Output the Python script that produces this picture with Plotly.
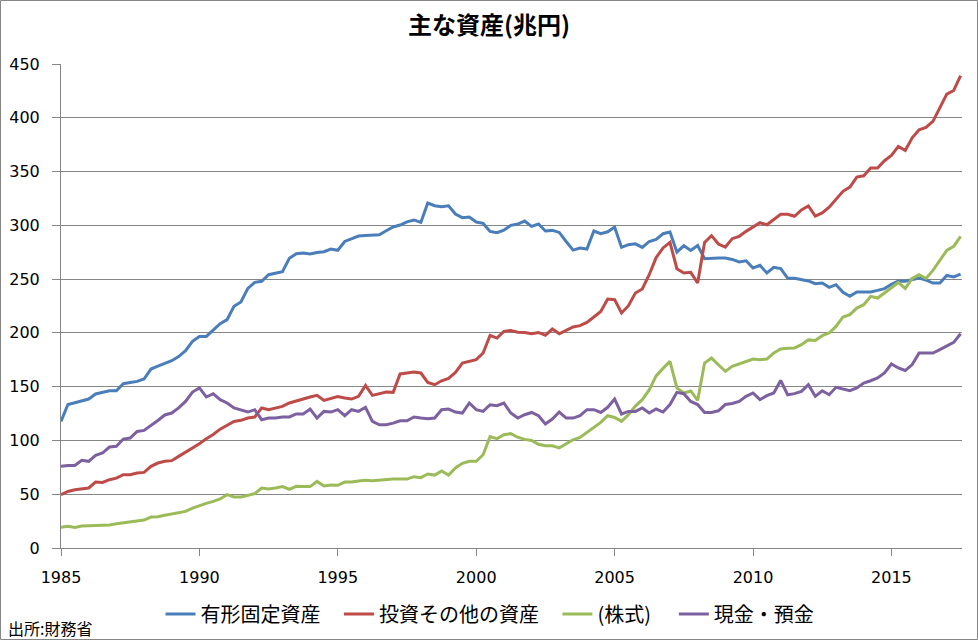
import plotly.graph_objects as go

START_YEAR = 1985  # first quarter: 1985 Q1, quarterly data

tangible_fixed = [
    117.7, 133.4, 135, 136.5, 138.5, 143.2, 144.5, 146.2, 146.2, 152.8,
    153.8, 154.9, 157.1, 166.4, 169, 171.5, 174.1, 178, 183.4, 192.1,
    196.7, 196.7, 202.5, 208.5, 212.3, 224.7, 228.7, 241.4, 247, 248,
    254.1, 255.5, 256.9, 269.3, 273.6, 274.2, 273.3, 274.8, 275.5, 278,
    276.8, 285, 287.6, 290, 290.5, 291, 291.3, 295, 298.5, 300.3,
    303.2, 305, 302.7, 320.7, 318.2, 317.3, 318.2, 310.5, 307.1, 307.7,
    303.1, 301.8, 294.4, 293.1, 295.5, 300, 301.2, 304, 299, 301.2,
    294.7, 295.3, 293.4, 285, 277, 278.9, 278, 294.7, 292.2, 294,
    298.4, 279.5, 282, 282.8, 279.5, 285, 287, 292.2, 293.8, 275.2,
    281, 276.7, 281.3, 269, 269.6, 269.6, 269.6, 268.3, 265.9, 267,
    260.3, 262.8, 255.7, 261, 259.8, 251, 250.7, 249.2, 248.3, 245.7,
    246.3, 242.3, 244.8, 237.7, 234, 238, 238, 238, 239.5, 241.2,
    245.2, 248.3, 248, 249.5, 251, 249, 246.3, 246.3, 253.4, 252,
    254.7,
]

investments_other = [
    49.6, 52.6, 54.2, 55.1, 55.8, 61.3, 61, 63.5, 65, 68.1,
    68.1, 69.7, 70.3, 75.9, 79, 80.6, 81.2, 85.2, 88.9, 92.9,
    97,
    101.5, 105.5, 110.5, 114.5, 117.7, 118.7, 120.9, 121.8, 130.2, 128.6,
    130.2, 131.7, 134.8, 136.4, 138.5, 140.4, 141.9, 137.2, 139.4, 140.9,
    139.4, 138.5, 141,
    151.2, 141.9, 143.1, 145, 144.7, 161.8, 162.7, 163.6, 162.7, 154,
    151.8, 155.5, 157.7, 163.3, 172, 173.6, 175.1, 181.3, 197.7, 195.2,
    201.4, 202.3,
    200.7, 200.4, 199.2, 200.4, 197.7, 203.6, 199.2, 202.3, 205.5, 206.7,
    209.8, 214.8, 219.9, 231.5, 230.9, 218.5, 225.3, 237.1, 240.8, 254.1,
    270,
    279, 284.1, 259.7, 255.7, 256.3, 246.4, 284.1, 290.4, 282.6, 279.8,
    287.6, 289.8, 294.4, 298.4, 302.4, 300.5, 305.5, 310.2, 310.2, 308.4,
    314.3, 318,
    308.6, 311.5, 316.9, 324.5, 331.6, 335.6, 344.9, 346.1, 353.3, 353.3,
    360.1, 365, 373.4, 369.7, 381.3, 388.9, 391, 396.6, 409, 422,
    425.4, 439.1,
]

stocks = [
    19.2, 20.1, 19, 20.5, 20.8, 20.8, 20.8, 21.5, 22.5, 23.5,
    24.3, 25, 26, 28.8, 29.1, 30.5, 31.5, 32.5, 34, 37,
    39.5,
    41.5, 43.4, 45.6, 49.6, 47.4, 47.4, 49.3, 50.5, 55.8, 54.9,
    55.8, 57.1, 54.6, 57.4, 57.1, 57.1, 61.9, 57.7, 58.6, 58.3,
    61.3, 61.3, 62.3,
    63, 62.5, 63, 64, 64.1, 64.1, 64.1, 66.3, 65.4, 68.8,
    67.8, 71.6, 67.8, 74.4, 78.7, 80.6, 80.6, 86.7, 103.5, 101.7,
    105.3, 106.3,
    103, 101, 100, 96.5, 95.1, 95.1, 93, 97, 100.6, 102.8,
    107.5, 112.5, 116.8, 123, 121.4, 117.7, 124, 132, 137.9, 147,
    160,
    167, 173.5, 148.8, 144.1, 146, 137.2, 172, 176.6, 170.4, 164.2,
    168.9, 171, 172.9, 175.7, 175, 175.7, 181.3, 185, 185.7, 186,
    189, 193.5,
    193, 197.4, 199.9, 206, 214.8, 217, 223.1, 226.2, 234, 232.4,
    237.1, 242.3, 246.9, 241.3, 250.6, 254.1, 250.6, 258.1, 268, 276.7,
    280.4, 289.7,
]

cash_deposits = [
    75.9, 76.8, 76.8, 81.5, 80.6, 86.1, 88.3, 93.9, 94.5, 101.3,
    102.2, 108.4, 109.3, 113.7, 118.6, 123.7, 125.5, 130.2, 136.3, 145,
    148.8,
    140.4, 143.5, 137.9, 134.8, 130.2, 128, 126.4, 128.6, 119.3, 120.8,
    120.8, 121.8, 121.8, 124.6, 124.6, 129.2, 120.8, 127, 126.4, 128.6,
    123, 128.6, 127,
    130.8, 117.7, 114.6, 114.6, 116.1, 118.3, 118.3, 121.8, 120.8, 120.2,
    120.8, 128.6, 129.2, 126.4, 125.5, 134.8, 128.6, 127, 133.2, 132.3,
    134.8, 125.5,
    120.8, 123.9, 126, 123, 115.3, 119.9, 126.4, 120.8, 120.8, 123,
    128.6, 128.6, 126, 130.8, 138.5, 124.6, 127, 127, 130.2, 125.5,
    129.2,
    126.4, 133.4, 144.7, 143.5, 136.3, 133.4, 126, 126, 127.6, 133.4,
    134.3, 136.3, 141, 144.1, 137.9, 141.6, 144.1, 155.8, 142.5, 143.5,
    145.6, 151.8,
    141, 146.2, 142.5, 149.4, 147.8, 146.2, 148.8, 153.4, 155.5, 158.1,
    162.7, 171.1, 167.4, 165, 170.5, 181.3, 181.3, 181.3, 184.4, 188.1,
    191.2, 199.2,
]

series_names = ["有形固定資産", "投資その他の資産", "(株式)", "現金・預金"]
series_colors = ["#4A7EBB", "#BE4B48", "#9BBB59", "#7D60A0"]
x_tick_years = [1985, 1990, 1995, 2000, 2005, 2010, 2015]
y_ticks = [0, 50, 100, 150, 200, 250, 300, 350, 400, 450]

title_text = "主な資産(兆円)"
source_text = "出所:財務省"

quarters = [START_YEAR + i / 4 for i in range(len(tangible_fixed))]

FONT = "Noto Sans CJK JP"
legend_pads = [3, 3, 4, 0]  # trailing non-breaking spaces for legend spacing

fig = go.Figure()
all_series = [tangible_fixed, investments_other, stocks, cash_deposits]
for name, vals, col, pad in zip(series_names, all_series, series_colors, legend_pads):
    fig.add_trace(go.Scatter(
        x=quarters, y=vals, name=name + "\u00a0" * pad, mode="lines",
        line=dict(color=col, width=3),
    ))

W, H = 978, 640
L, R, T, B = 61, 16, 64, 92
pw, ph = W - L - R, H - T - B

fig.update_layout(
    width=W, height=H,
    margin=dict(l=L, r=R, t=T, b=B),
    paper_bgcolor="white", plot_bgcolor="white",
    font=dict(family=FONT, color="black", size=15),
    title=dict(text="<b>" + title_text + "</b>", x=0.5, xanchor="center",
               y=1 - 26 / H, yanchor="middle",
               font=dict(family=FONT, size=24, color="black")),
    showlegend=True,
    legend=dict(orientation="h", xref="container", yref="container",
                x=490 / W, xanchor="center",
                y=1 - 614 / H, yanchor="middle",
                font=dict(family=FONT, size=20, color="black"),
                itemwidth=30, bgcolor="rgba(0,0,0,0)"),
    xaxis=dict(range=[1985, 2017.55], tickvals=x_tick_years,
               ticktext=[str(v) for v in x_tick_years],
               showgrid=False, zeroline=False, automargin=False,
               showline=True, linecolor="#868686", linewidth=1,
               ticks="outside", ticklen=7, tickcolor="#868686",
               ticklabelstandoff=8,
               tickfont=dict(family="DejaVu Sans", size=16, color="black")),
    yaxis=dict(range=[0, 450], tickvals=y_ticks,
               showgrid=True, gridcolor="#868686", gridwidth=1,
               zeroline=False, automargin=False,
               showline=True, linecolor="#868686", linewidth=1,
               ticks="outside", ticklen=8, tickcolor="#868686",
               ticklabelstandoff=9,
               tickfont=dict(family="DejaVu Sans", size=16, color="black")),
)

# chart-area border
fig.add_shape(type="rect", xref="paper", yref="paper",
              x0=(0.5 - L) / pw, x1=(W - 0.5 - L) / pw,
              y0=-(H - 0.5 - (T + ph)) / ph, y1=1 + (T - 0.5) / ph,
              line=dict(color="#868686", width=1), fillcolor="rgba(0,0,0,0)",
              layer="below")

fig.add_annotation(text=source_text, xref="paper", yref="paper",
                   x=(6 - L) / pw, xanchor="left",
                   y=-(628 - (T + ph)) / ph, yanchor="middle",
                   showarrow=False, font=dict(family=FONT, size=16, color="black"))

fig.write_html("out.html", config={"displayModeBar": False},
               post_script="document.body.style.margin='0';")
